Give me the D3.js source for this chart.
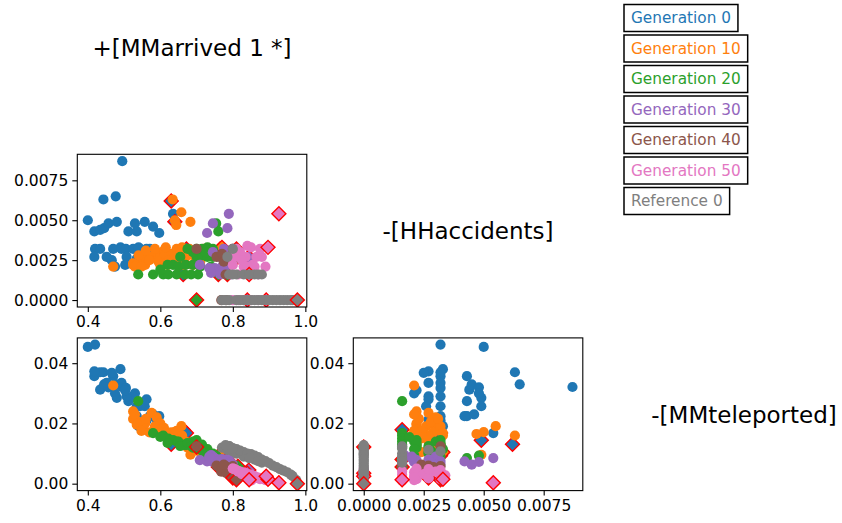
<!DOCTYPE html>
<html>
<head>
	<meta charset="utf-8">
	<title>scatter matrix</title>
	<script src="https://d3js.org/d3.v7.min.js"></script>
	<style>
		body { margin: 0; background: #fff; }
		text { font-family: 'DejaVu Sans', sans-serif; }
	</style>
</head>
<body>
	<svg id="chart" width="842" height="523"></svg>
	<script type="text/javascript">

		// objectives on the diagonal
		var objectives = ['+[MMarrived 1 *]', '-[HHaccidents]', '-[MMteleported]'];
		var seriesNames = ['Generation 0', 'Generation 10', 'Generation 20', 'Generation 30', 'Generation 40', 'Generation 50', 'Reference 0'];

		// each point: [MMarrived, HHaccidents, MMteleported]
		var gen0 = [
			[0.400, 0.0050, 0.0454], [0.420, 0.0032, 0.0462], [0.495, 0.0087, 0.0321], [0.477, 0.0065, 0.0330],
			[0.443, 0.0063, 0.0370], [0.418, 0.0043, 0.0357], [0.434, 0.0044, 0.0312], [0.445, 0.0045, 0.0330],
			[0.457, 0.0048, 0.0320], [0.480, 0.0049, 0.0285], [0.512, 0.0043, 0.0274], [0.530, 0.0048, 0.0300],
			[0.535, 0.0043, 0.0224], [0.557, 0.0049, 0.0257], [0.580, 0.0046, 0.0230], [0.597, 0.0042, 0.0224],
			[0.635, 0.0054, 0.0168], [0.490, 0.0033, 0.0380], [0.470, 0.0032, 0.0357], [0.434, 0.0032, 0.0370],
			[0.493, 0.0032, 0.0335], [0.505, 0.0032, 0.0318], [0.525, 0.0032, 0.0290], [0.544, 0.0032, 0.0257],
			[0.562, 0.0032, 0.0210], [0.540, 0.0033, 0.0191], [0.571, 0.0032, 0.0224], [0.418, 0.0027, 0.0373],
			[0.466, 0.0025, 0.0368], [0.452, 0.0027, 0.0335], [0.507, 0.0027, 0.0290], [0.535, 0.0026, 0.0257],
			[0.562, 0.0027, 0.0280], [0.590, 0.0027, 0.0213], [0.475, 0.0021, 0.0300], [0.503, 0.0022, 0.0310]
		];
		var gen0Front = [[0.663, 0.0016, 0.0179], [0.672, 0.0032, 0.0168], [0.640, 0.0049, 0.0144], [0.630, 0.0062, 0.0131]];

		var gen10 = [
			[0.470, 0.0021, 0.0326], [0.634, 0.0063, 0.0160], [0.658, 0.0055, 0.0191], [0.640, 0.0050, 0.0171],
			[0.644, 0.0047, 0.0165], [0.683, 0.0049, 0.0096], [0.525, 0.0022, 0.0240], [0.525, 0.0023, 0.0215],
			[0.535, 0.0022, 0.0196], [0.553, 0.0026, 0.0190], [0.558, 0.0022, 0.0200], [0.576, 0.0027, 0.0235],
			[0.590, 0.0030, 0.0220], [0.600, 0.0028, 0.0200], [0.610, 0.0031, 0.0185], [0.620, 0.0022, 0.0165],
			[0.630, 0.0029, 0.0170], [0.645, 0.0032, 0.0175], [0.650, 0.0024, 0.0150], [0.660, 0.0033, 0.0160],
			[0.670, 0.0027, 0.0140], [0.680, 0.0032, 0.0130], [0.690, 0.0022, 0.0125], [0.700, 0.0030, 0.0115],
			[0.720, 0.0032, 0.0100], [0.600, 0.0022, 0.0180], [0.570, 0.0025, 0.0170], [0.610, 0.0027, 0.0160],
			[0.540, 0.0028, 0.0205], [0.585, 0.0032, 0.0190], [0.595, 0.0024, 0.0175], [0.615, 0.0033, 0.0168],
			[0.625, 0.0025, 0.0155], [0.640, 0.0027, 0.0145], [0.655, 0.0030, 0.0135], [0.665, 0.0022, 0.0130],
			[0.675, 0.0031, 0.0120], [0.695, 0.0027, 0.0110], [0.710, 0.0024, 0.0105], [0.530, 0.0021, 0.0230],
			[0.560, 0.0031, 0.0215], [0.548, 0.0021, 0.0175]
		];
		var gen10Front = [[0.765, 0.0032, 0.0093], [0.770, 0.0033, 0.0104]];

		var gen20 = [
			[0.539, 0.0016, 0.0274], [0.754, 0.0048, 0.0093], [0.760, 0.0043, 0.0085], [0.580, 0.0016, 0.0168],
			[0.608, 0.0016, 0.0160], [0.622, 0.0016, 0.0150], [0.645, 0.0016, 0.0140], [0.668, 0.0016, 0.0130],
			[0.704, 0.0016, 0.0120], [0.635, 0.0022, 0.0145], [0.650, 0.0021, 0.0140], [0.670, 0.0022, 0.0128],
			[0.690, 0.0022, 0.0120], [0.700, 0.0027, 0.0120], [0.715, 0.0028, 0.0110], [0.730, 0.0027, 0.0105],
			[0.745, 0.0027, 0.0100], [0.700, 0.0032, 0.0145], [0.715, 0.0032, 0.0130], [0.730, 0.0033, 0.0115],
			[0.745, 0.0032, 0.0090], [0.620, 0.0022, 0.0135], [0.690, 0.0030, 0.0140], [0.600, 0.0019, 0.0155],
			[0.655, 0.0027, 0.0125], [0.675, 0.0032, 0.0135], [0.710, 0.0021, 0.0115], [0.725, 0.0030, 0.0100],
			[0.740, 0.0021, 0.0095], [0.685, 0.0016, 0.0125]
		];
		var gen20Front = [[0.700, 0.0000, 0.0122], [0.760, 0.0016, 0.0055], [0.785, 0.0016, 0.0080], [0.814, 0.0027, 0.0058]];

		var gen30 = [
			[0.789, 0.0054, 0.0085], [0.785, 0.0045, 0.0063], [0.745, 0.0048, 0.0072], [0.729, 0.0042, 0.0074],
			[0.709, 0.0022, 0.0078], [0.745, 0.0030, 0.0090], [0.760, 0.0027, 0.0080], [0.775, 0.0032, 0.0075],
			[0.790, 0.0028, 0.0070], [0.800, 0.0032, 0.0065], [0.750, 0.0020, 0.0085], [0.765, 0.0016, 0.0078],
			[0.780, 0.0021, 0.0072], [0.795, 0.0016, 0.0065], [0.740, 0.0017, 0.0095], [0.770, 0.0021, 0.0082],
			[0.735, 0.0020, 0.0090]
		];
		var gen30Front = [[0.844, 0.0027, 0.0045], [0.840, 0.0000, 0.0035]];

		var gen40 = [
			[0.768, 0.0000, 0.0040], [0.782, 0.0000, 0.0035], [0.755, 0.0027, 0.0060], [0.770, 0.0029, 0.0055],
			[0.790, 0.0027, 0.0050], [0.700, 0.0032, 0.0124], [0.780, 0.0016, 0.0058], [0.800, 0.0032, 0.0058],
			[0.775, 0.0024, 0.0063]
		];
		var gen40Front = [[0.800, 0.0027, 0.0019], [0.810, 0.0032, 0.0013]];

		var gen50 = [
			[0.810, 0.0032, 0.0045], [0.820, 0.0030, 0.0040], [0.835, 0.0027, 0.0035], [0.850, 0.0033, 0.0030],
			[0.860, 0.0021, 0.0025], [0.830, 0.0021, 0.0038], [0.845, 0.0016, 0.0030], [0.870, 0.0016, 0.0020],
			[0.880, 0.0027, 0.0018], [0.800, 0.0022, 0.0050], [0.815, 0.0016, 0.0042], [0.855, 0.0022, 0.0015],
			[0.800, 0.0000, 0.0050], [0.815, 0.0000, 0.0040], [0.890, 0.0021, 0.0012], [0.840, 0.0034, 0.0028],
			[0.825, 0.0025, 0.0032], [0.840, 0.0021, 0.0022], [0.865, 0.0027, 0.0020], [0.875, 0.0032, 0.0015],
			[0.830, 0.0000, 0.0035], [0.850, 0.0000, 0.0025], [0.870, 0.0000, 0.0018], [0.805, 0.0027, 0.0048],
			[0.850, 0.0016, 0.0010]
		];
		var gen50Front = [[0.927, 0.0054, 0.0003], [0.897, 0.0033, 0.0015], [0.892, 0.0000, 0.0025], [0.845, 0.0016, 0.0013]];

		var reference = [
			[0.770, 0.0000, 0.0120], [0.790, 0.0000, 0.0125], [0.810, 0.0000, 0.0115], [0.830, 0.0000, 0.0105],
			[0.850, 0.0000, 0.0098], [0.870, 0.0000, 0.0088], [0.890, 0.0000, 0.0075], [0.910, 0.0000, 0.0060],
			[0.930, 0.0000, 0.0048], [0.950, 0.0000, 0.0038], [0.965, 0.0000, 0.0025], [0.975, 0.0000, 0.0012],
			[0.790, 0.0016, 0.0124], [0.810, 0.0016, 0.0100], [0.830, 0.0016, 0.0090], [0.860, 0.0016, 0.0080],
			[0.880, 0.0016, 0.0070], [0.800, 0.0032, 0.0107], [0.785, 0.0027, 0.0112], [0.780, 0.0000, 0.0128],
			[0.820, 0.0000, 0.0110], [0.840, 0.0000, 0.0100], [0.860, 0.0000, 0.0093], [0.880, 0.0000, 0.0080],
			[0.900, 0.0000, 0.0068], [0.920, 0.0000, 0.0055], [0.940, 0.0000, 0.0043], [0.960, 0.0000, 0.0030],
			[0.800, 0.0016, 0.0118], [0.845, 0.0016, 0.0085], [0.870, 0.0016, 0.0075]
		];
		var referenceFront = [[0.978, 0.0000, 0.0000]];

		// tick values per objective
		var arrivedTicks = [0.4, 0.6, 0.8, 1.0];
		var accidentsTicks = [0, 0.0025, 0.005, 0.0075];
		var teleportedTicks = [0, 0.02, 0.04];

		var colors = ['#1f77b4', '#ff7f0e', '#2ca02c', '#9467bd', '#8c564b', '#e377c2', '#7f7f7f'];
		var series = [
			{points: gen0, front: gen0Front}, {points: gen10, front: gen10Front},
			{points: gen20, front: gen20Front}, {points: gen30, front: gen30Front},
			{points: gen40, front: gen40Front}, {points: gen50, front: gen50Front},
			{points: reference, front: referenceFront}
		];

		var svg = d3.select('#chart');

		// grid of cells
		var gridLeft = 77.3, gridTop = -29.3, cellW = 229.5, cellH = 152.7, gapX = 46.5, gapY = 30.9;
		var colX = i => gridLeft + i * (cellW + gapX);
		var rowY = i => gridTop + i * (cellH + gapY);

		var domains = [[0.371, 1.004], [-0.000435, 0.00913], [-0.0023, 0.0484]];
		var ticks = [arrivedTicks, accidentsTicks, teleportedTicks];
		var formats = [d3.format('.1f'), d3.format('.4f'), d3.format('.2f')];

		var xScales = domains.map((d, i) => d3.scaleLinear().domain(d).range([colX(i), colX(i) + cellW]));
		var yScales = domains.map((d, i) => d3.scaleLinear().domain(d).range([rowY(i) + cellH, rowY(i)]));

		// diagonal labels
		objectives.forEach((name, i) => {
			svg.append('text')
				.attr('x', colX(i) + cellW / 2)
				.attr('y', rowY(i) + cellH / 2 + 8.5)
				.attr('text-anchor', 'middle')
				.attr('font-size', 23)
				.attr('fill', '#000')
				.text(name);
		});

		var diamond = d3.symbol().type(d3.symbolSquare).size(98);

		var panels = [[1, 0], [2, 0], [2, 1]];
		panels.forEach(([row, col], p) => {
			var xs = xScales[col], ys = yScales[row];
			var x0 = colX(col), y0 = rowY(row);

			svg.append('clipPath').attr('id', 'clip' + p)
				.append('rect').attr('x', x0).attr('y', y0).attr('width', cellW).attr('height', cellH);

			var g = svg.append('g').attr('clip-path', 'url(#clip' + p + ')');

			series.forEach((s, i) => {
				g.append('g').selectAll('circle')
					.data(s.points)
					.enter().append('circle')
					.attr('cx', d => xs(d[col]))
					.attr('cy', d => ys(d[row]))
					.attr('r', 5.1)
					.attr('fill', colors[i]);

				g.append('g').selectAll('path')
					.data(s.front)
					.enter().append('path')
					.attr('d', diamond)
					.attr('transform', d => 'translate(' + xs(d[col]) + ',' + ys(d[row]) + ') rotate(45)')
					.attr('fill', colors[i])
					.attr('stroke', 'red')
					.attr('stroke-width', 1.4);
			});

			var xAxis = d3.axisBottom(xs).tickValues(ticks[col]).tickFormat(formats[col]).tickSize(5).tickPadding(4);
			var yAxis = d3.axisLeft(ys).tickValues(ticks[row]).tickFormat(formats[row]).tickSize(5).tickPadding(4);

			svg.append('g')
				.attr('transform', 'translate(0,' + (y0 + cellH) + ')')
				.call(xAxis)
				.call(a => a.select('.domain').remove())
				.call(a => a.selectAll('text').attr('font-size', 15.5).attr('font-family', 'DejaVu Sans').attr('fill', '#000'))
				.call(a => a.selectAll('line').attr('stroke', '#000').attr('stroke-width', 1.1));

			svg.append('g')
				.attr('transform', 'translate(' + x0 + ',0)')
				.call(yAxis)
				.call(a => a.select('.domain').remove())
				.call(a => a.selectAll('text').attr('font-size', 15.5).attr('font-family', 'DejaVu Sans').attr('fill', '#000'))
				.call(a => a.selectAll('line').attr('stroke', '#000').attr('stroke-width', 1.1));

			svg.append('rect')
				.attr('x', x0).attr('y', y0)
				.attr('width', cellW).attr('height', cellH)
				.attr('fill', 'none')
				.attr('stroke', '#000')
				.attr('stroke-width', 1.1);
		});

		// legend: one box per series
		var legend = svg.append('g').selectAll('g')
			.data(seriesNames)
			.enter().append('g')
			.attr('transform', (d, i) => 'translate(624,' + (4.5 + i * 30.5) + ')');

		legend.append('text')
			.attr('x', 7)
			.attr('y', 18.5)
			.attr('font-size', 15.3)
			.attr('fill', (d, i) => colors[i])
			.text(d => d);

		legend.each(function () {
			var g = d3.select(this);
			var w = g.select('text').node().getComputedTextLength();
			g.insert('rect', 'text')
				.attr('width', w + 14)
				.attr('height', 27)
				.attr('fill', '#fff')
				.attr('stroke', '#000')
				.attr('stroke-width', 1.5);
		});

	</script>
</body>
</html>
